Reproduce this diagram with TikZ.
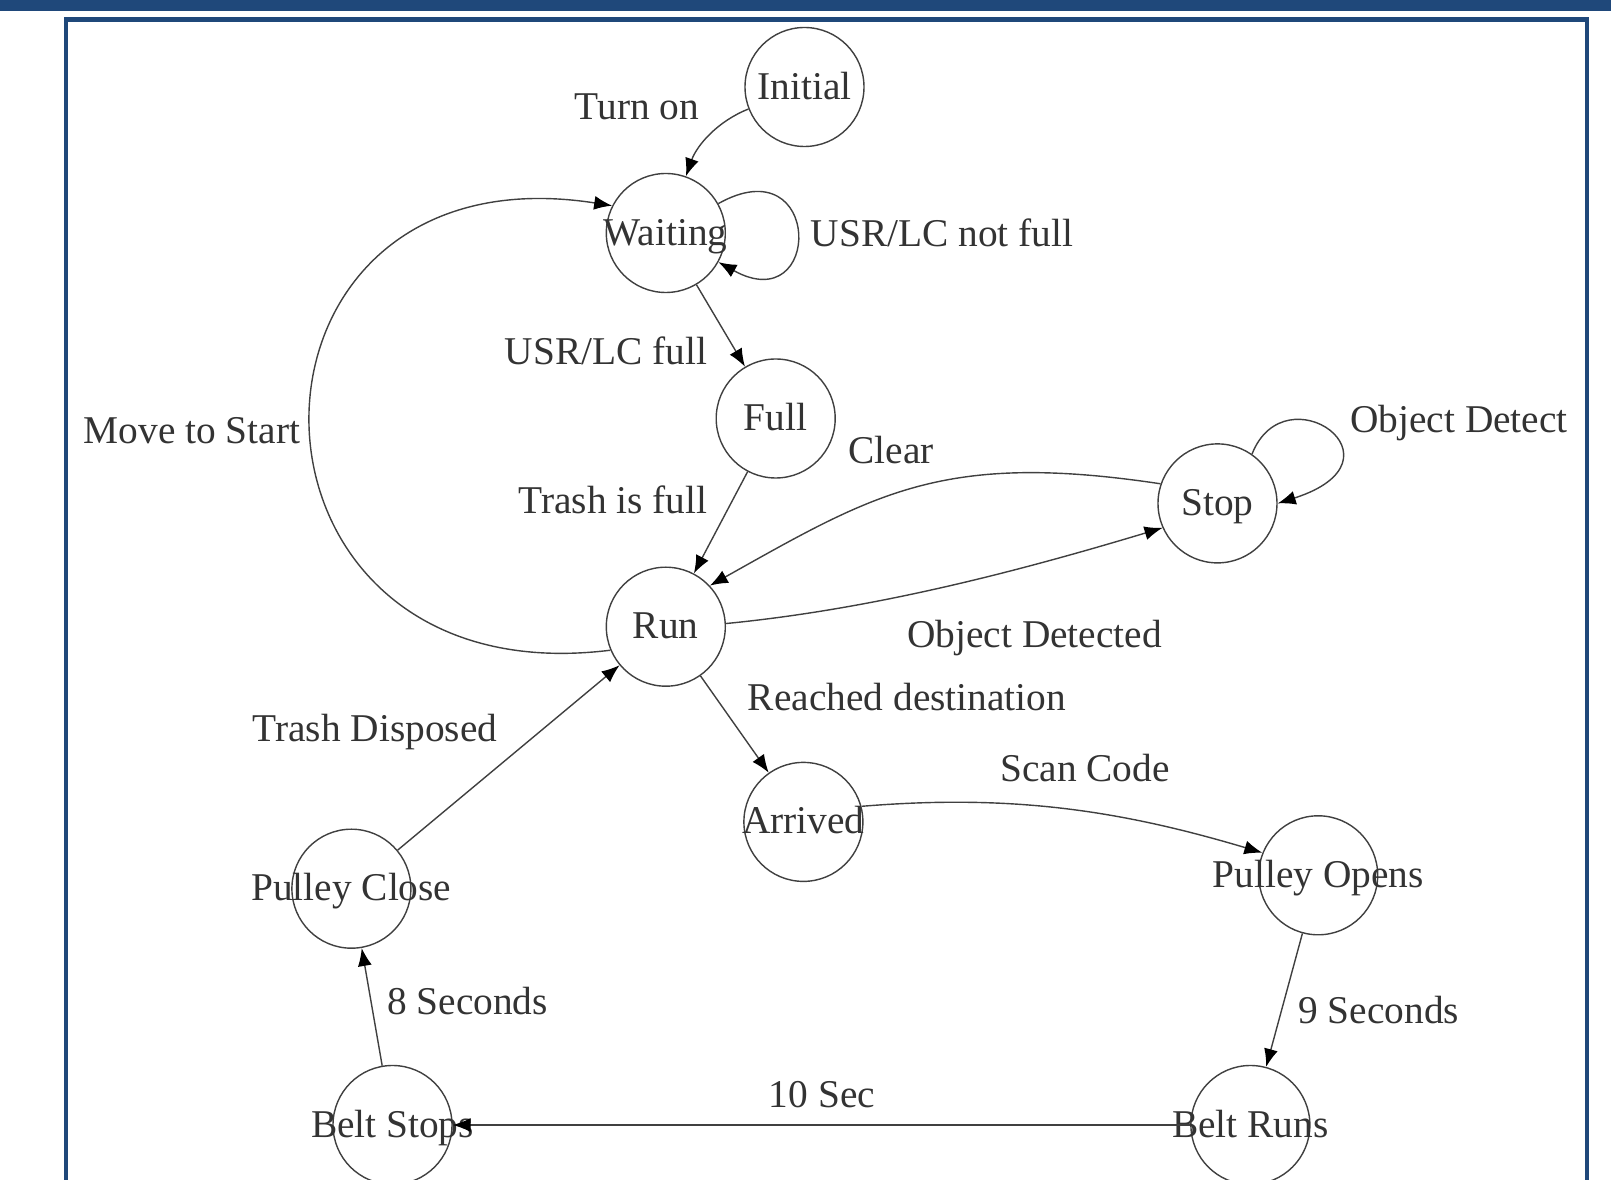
\documentclass[tikz,border=0pt]{standalone}
\usepackage{fontspec}
\setmainfont{Liberation Serif}
\usepackage{xcolor}
\usepackage{tikz}
\usetikzlibrary{arrows.meta}

\definecolor{frameblue}{RGB}{31,72,122}

\begin{document}
\begin{tikzpicture}[
    x=0.1mm, y=-0.1mm,
    state/.style={circle, draw=black!75, line width=0.4pt, minimum size=11.9mm, inner sep=0pt, font=\fontsize{11.2}{13}\selectfont, text=black!80, text height=1.5ex, text depth=0pt},
    lbl/.style={font=\fontsize{11.2}{13}\selectfont, text=black!80, inner sep=0pt, text height=1.5ex, text depth=.25ex},
    arrow/.style={-{Latex[length=1.8mm,width=1.4mm,color=black]}, draw=black!75, line width=0.4pt}
]
    \useasboundingbox (0,0) rectangle (1611,1180);

    % Frame
    \fill[frameblue] (0,0) rectangle (1611,11);
    \draw[frameblue, line width=0.45mm] (66,19.5) rectangle (1587,1250);

    % States
    \node[state] (initial) at (804.5,87) {\makebox[0pt]{Initial}};
    \node[state] (waiting) at (665.8,233) {\makebox[0pt]{Waiting}};
    \node[state] (full) at (775.7,418.5) {\makebox[0pt]{Full}};
    \node[state] (stop) at (1217.5,503.4) {\makebox[0pt]{Stop}};
    \node[state] (run) at (665.8,626.7) {\makebox[0pt]{Run}};
    \node[state] (arrived) at (803.4,821.9) {\makebox[0pt]{Arrived}};
    \node[state] (pulleyopen) at (1318.2,875.3) {\makebox[0pt]{Pulley Opens}};
    \node[state] (pulleyclose) at (351.4,888.7) {\makebox[0pt]{Pulley Close}};
    \node[state] (beltstop) at (392.5,1125) {\makebox[0pt]{Belt Stops}};
    \node[state] (beltrun) at (1250.4,1125) {\makebox[0pt]{Belt Runs}};

    % Transitions
    \draw[arrow] (initial) .. controls (718,121) and (697,145) .. (waiting);
    \draw[arrow] (waiting) .. controls (823,145) and (823,320) .. (waiting);
    \draw[arrow] (waiting) -- (full);
    \draw[arrow] (full) -- (run);
    \draw[arrow] (stop.161) .. controls (943,451) and (875,493) .. (run.43);
    \draw[arrow] (run.3) .. controls (875,609) and (1019,571) .. (stop.204);
    \draw[arrow] (stop.55) .. controls (1285,370) and (1413,460) .. (stop.0);
    \draw[arrow] (run.203) .. controls (211,700) and (211,143) .. (waiting.153);
    \draw[arrow] (run) -- (arrived);
    \draw[arrow] (arrived.15) .. controls (1011,794) and (1119,810) .. (pulleyopen.158);
    \draw[arrow] (pulleyopen) -- (beltrun);
    \draw[arrow] (beltrun) -- (beltstop);
    \draw[arrow] (beltstop) -- (pulleyclose);
    \draw[arrow] (pulleyclose) -- (run);

    % Labels
    \node[lbl] (turnon) at (637,109) {Turn on};
    \node[lbl] (notfull) at (942,236) {USR/LC not full};
    \node[lbl] (usrfull) at (606,354) {USR/LC full};
    \node[lbl] (movestart) at (192,433.5) {Move to Start};
    \node[lbl] (clear) at (891,453) {Clear};
    \node[lbl] (objdetect) at (1459,422) {Object Detect};
    \node[lbl] (trashfull) at (613,503) {Trash is full};
    \node[lbl] (objdetected) at (1034.6,637) {Object Detected};
    \node[lbl] (reached) at (907,700.6) {Reached destination};
    \node[lbl] (disposed) at (375,731.4) {Trash Disposed};
    \node[lbl] (scancode) at (1085,771.5) {Scan Code};
    \node[lbl] (eightsec) at (467.5,1004.7) {8 Seconds};
    \node[lbl] (ninesec) at (1378.8,1013) {9 Seconds};
    \node[lbl] (tensec) at (822,1097) {10 Sec};

\end{tikzpicture}
\end{document}
